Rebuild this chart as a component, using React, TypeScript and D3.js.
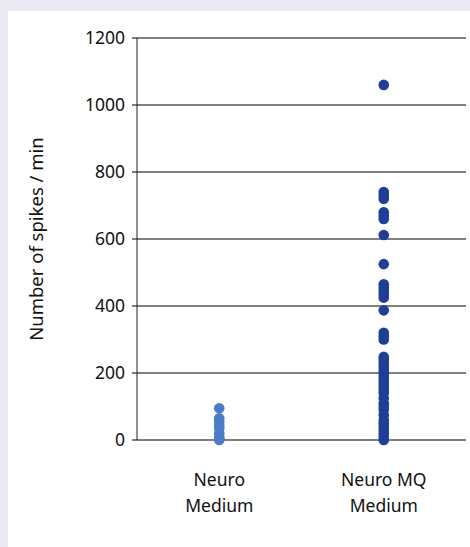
import { useMemo } from "react";
import * as d3 from "d3";

const W = 470;
const H = 547;

const CATEGORIES = ["Neuro Medium", "Neuro MQ Medium"];
const CATEGORY_LINES: string[][] = [["Neuro", "Medium"], ["Neuro MQ", "Medium"]];
const COLORS = ["#4a7cc8", "#1f3e98"];

const NEURO = [95, 65, 55, 45, 35, 20, 10, 3, 0];
const NEURO_MQ = [
  1060, 740, 730, 720, 680, 670, 660, 612, 525, 465, 455, 445, 435, 425, 387,
  320, 310, 300, 248, 240, 230, 220, 210, 200, 190, 180, 170, 160, 150, 140,
  125, 110, 100, 90, 75, 60, 50, 40, 30, 20, 10, 0,
];
const SERIES = [NEURO, NEURO_MQ];
const Y_TICKS = [0, 200, 400, 600, 800, 1000, 1200];

const M = { top: 38, right: 4, bottom: 107, left: 137 };
const FONT = "'Noto Sans', sans-serif";
const TEXT = "#111";

export default function App() {
  const x = useMemo(
    () => d3.scaleBand<string>().domain(CATEGORIES).range([M.left, W - M.right]),
    []
  );
  const y = useMemo(
    () => d3.scaleLinear().domain([0, 1200]).range([H - M.bottom, M.top]),
    []
  );

  return (
    <div style={{ position: "fixed", left: 0, top: 0 }}>
      <svg width={W} height={H} style={{ display: "block" }}>
        <rect x={0} y={0} width={W} height={H} fill="#e9e9f3" />
        <rect x={8} y={11} width={W - 8} height={H - 11} fill="#ffffff" />

        {/* grid lines + ticks */}
        {Y_TICKS.map((t) => (
          <g key={t}>
            <line
              x1={M.left - 5}
              x2={W - M.right}
              y1={y(t)}
              y2={y(t)}
              stroke="#555"
              strokeWidth={1.3}
            />
            <text
              x={M.left - 12}
              y={y(t)}
              dy="0.36em"
              textAnchor="end"
              fontFamily={FONT}
              fontSize={17.5}
              fill={TEXT}
            >
              {t}
            </text>
          </g>
        ))}
        <line x1={M.left} x2={M.left} y1={y(1200)} y2={y(0)} stroke="#222" strokeWidth={1} />

        {/* y label */}
        <text
          transform={`translate(43,${(y(0) + y(1200)) / 2}) rotate(-90)`}
          textAnchor="middle"
          fontFamily={FONT}
          fontSize={18.5}
          fill={TEXT}
        >
          Number of spikes / min
        </text>

        {/* points */}
        {SERIES.map((vals, i) =>
          vals.map((v, j) => (
            <circle
              key={`${i}-${j}`}
              cx={(x(CATEGORIES[i]) ?? 0) + x.bandwidth() / 2}
              cy={y(v)}
              r={5.3}
              fill={COLORS[i]}
            />
          ))
        )}

        {/* category labels */}
        {CATEGORY_LINES.map((lines, i) => (
          <text
            key={i}
            textAnchor="middle"
            fontFamily={FONT}
            fontSize={17.5}
            fill={TEXT}
          >
            {lines.map((ln, k) => (
              <tspan
                key={k}
                x={(x(CATEGORIES[i]) ?? 0) + x.bandwidth() / 2}
                y={486 + k * 26}
              >
                {ln}
              </tspan>
            ))}
          </text>
        ))}
      </svg>
    </div>
  );
}
